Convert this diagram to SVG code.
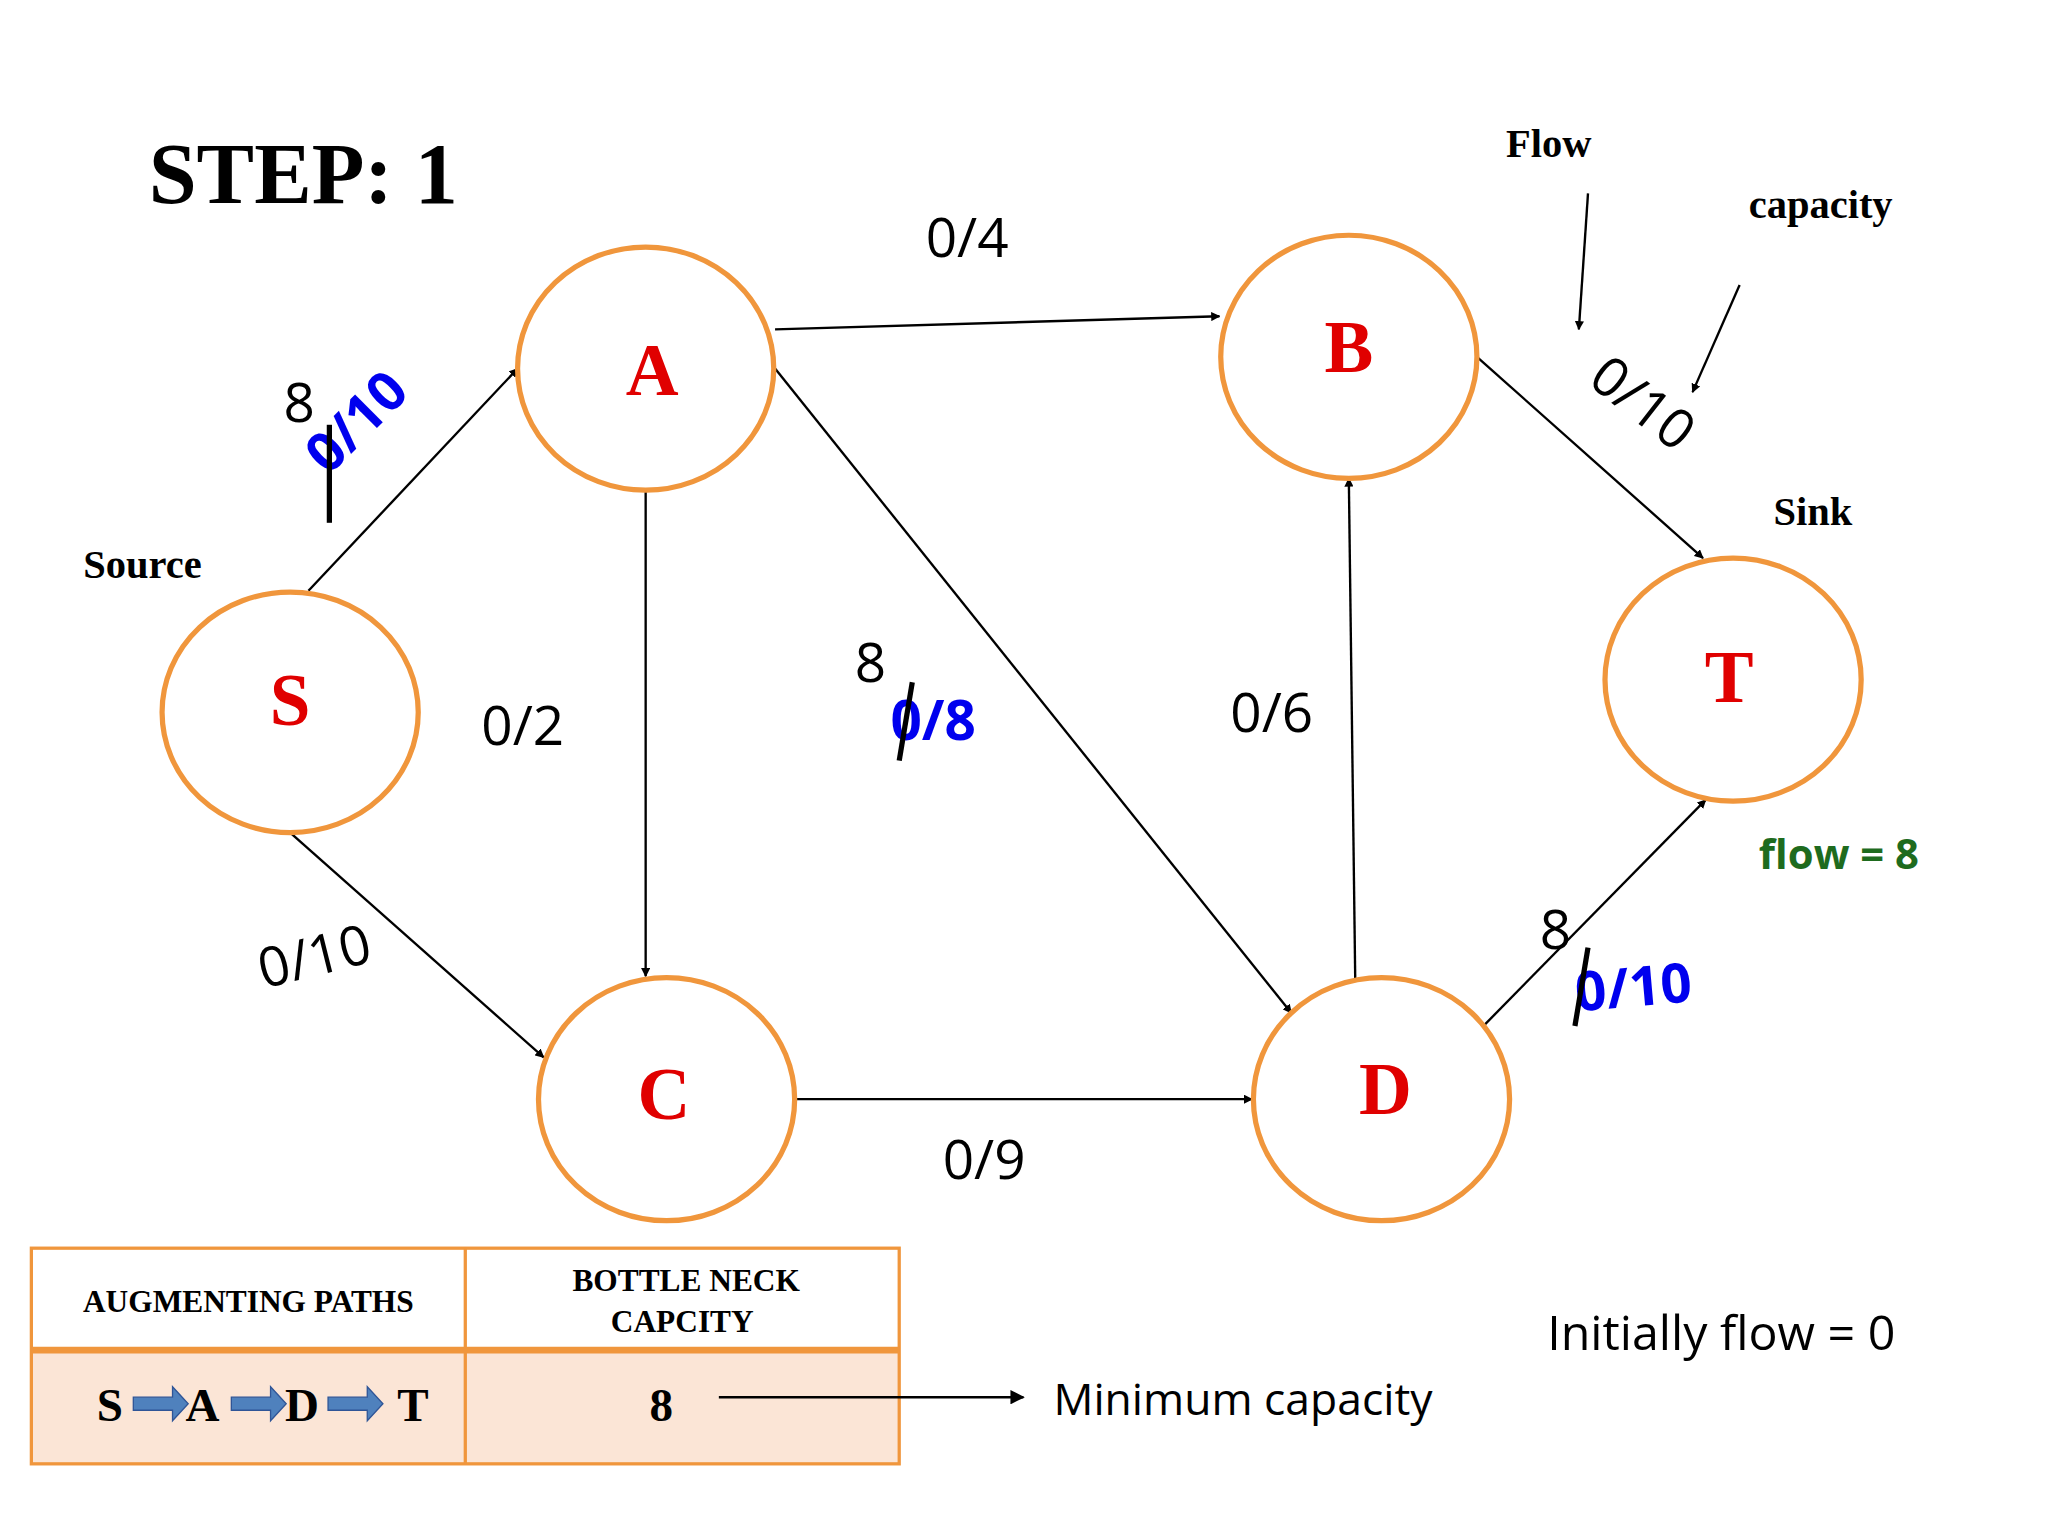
<svg xmlns="http://www.w3.org/2000/svg" width="2048" height="1536" viewBox="0 0 2048 1536">
<defs>
<marker id="ah" viewBox="0 0 10 10" refX="9" refY="5" markerWidth="7" markerHeight="7" markerUnits="userSpaceOnUse" orient="auto"><path d="M0,0L10,5L0,10z" fill="#000"/></marker>
<marker id="ah2" viewBox="0 0 10 10" refX="9" refY="5" markerWidth="11" markerHeight="11" markerUnits="userSpaceOnUse" orient="auto"><path d="M0,0L10,5L0,10z" fill="#000"/></marker>
<style>
.n{fill:#fff;stroke:#F0963C;stroke-width:4}
.nl{font-family:"Liberation Serif",serif;font-weight:bold;font-size:56px;fill:#E00000;text-anchor:middle}
.e{stroke:#000;stroke-width:1.8;fill:none;marker-end:url(#ah)}
.lb{font-family:"Open Sans",sans-serif;font-size:42px;fill:#000;text-anchor:middle}
.bl{font-family:"Open Sans",sans-serif;font-weight:bold;font-size:42px;fill:#0000EE;text-anchor:middle}
.tb{font-family:"Liberation Serif",serif;font-weight:bold;fill:#000;text-anchor:middle}
.st{stroke:#000;stroke-width:4}
.ba{fill:#4F81BD;stroke:#2F5597;stroke-width:1}
</style>
</defs>
<rect width="2048" height="1536" fill="#fff"/>
<g transform="scale(1.307)">
<text class="tb" x="232" y="155" font-size="66">STEP: 1</text>
<g id="table">
<rect x="24" y="1033" width="664" height="87" fill="#FBE5D6"/>
<rect x="24" y="955" width="664" height="165" fill="none" stroke="#F0963C" stroke-width="2.5"/>
<line x1="356" y1="955" x2="356" y2="1120" stroke="#F0963C" stroke-width="2.5"/>
<line x1="24" y1="1033" x2="688" y2="1033" stroke="#F0963C" stroke-width="5"/>
<text class="tb" x="190" y="1004" font-size="24">AUGMENTING PATHS</text>
<text class="tb" x="525" y="988" font-size="24">BOTTLE NECK</text>
<text class="tb" x="522" y="1019" font-size="24">CAPCITY</text>
<text class="tb" x="506" y="1087" font-size="36">8</text>
<text class="tb" x="84" y="1087" font-size="36">S</text>
<text class="tb" x="155" y="1087" font-size="36">A</text>
<text class="tb" x="231" y="1087" font-size="36">D</text>
<text class="tb" x="316" y="1087" font-size="36">T</text>
<path class="ba" d="M102,1069h30v-8l12,13l-12,13v-8h-30z"/>
<path class="ba" d="M177,1069h30v-8l12,13l-12,13v-8h-30z"/>
<path class="ba" d="M251,1069h30v-8l12,13l-12,13v-8h-30z"/>
</g>
<g id="connectors">
<line class="e" x1="236" y1="452" x2="396" y2="282"/>
<line class="e" x1="222" y1="637" x2="416" y2="809"/>
<line class="e" x1="593" y1="252" x2="933" y2="242"/>
<line class="e" x1="494" y1="375" x2="494" y2="747"/>
<line class="e" x1="593" y1="282" x2="988" y2="775"/>
<line class="e" x1="608" y1="841" x2="958" y2="841"/>
<line class="e" x1="1037" y1="757" x2="1032" y2="366"/>
<line class="e" x1="1130" y1="273" x2="1303" y2="427"/>
<line class="e" x1="1133" y1="787" x2="1305" y2="612"/>
<line class="e" x1="1215" y1="148" x2="1208" y2="252"/>
<line class="e" x1="1331" y1="218" x2="1295" y2="300"/>
<line x1="550" y1="1069" x2="783" y2="1069" stroke="#000" stroke-width="2" marker-end="url(#ah2)"/>
</g>
<g id="S"><ellipse class="n" cx="222" cy="545" rx="98" ry="92"/><text class="nl" x="222" y="555">S</text></g>
<g id="A"><ellipse class="n" cx="494" cy="282" rx="98" ry="93"/><text class="nl" x="499" y="302">A</text></g>
<g id="B"><ellipse class="n" cx="1032" cy="273" rx="98" ry="93"/><text class="nl" x="1032" y="285">B</text></g>
<g id="T"><ellipse class="n" cx="1326" cy="520" rx="98" ry="93"/><text class="nl" x="1323" y="537">T</text></g>
<g id="C"><ellipse class="n" cx="510" cy="841" rx="98" ry="93"/><text class="nl" x="508" y="856">C</text></g>
<g id="D"><ellipse class="n" cx="1057" cy="841" rx="98" ry="93"/><text class="nl" x="1060" y="852">D</text></g>
<g id="labels">
<text class="lb" x="740" y="197">0/4</text>
<text class="lb" x="229" y="323">8</text>
<text class="bl" transform="translate(283,333) rotate(-45)">0/10</text>
<line class="st" x1="252" y1="325" x2="252" y2="400"/>
<text class="lb" x="400" y="570">0/2</text>
<text class="lb" x="666" y="522">8</text>
<text class="bl" x="714" y="566">0/8</text>
<line class="st" x1="698" y1="522" x2="688" y2="582"/>
<text class="lb" x="973" y="560">0/6</text>
<text class="lb" transform="translate(1248,320) rotate(38)">0/10</text>
<text class="lb" transform="translate(244,746) rotate(-14)">0/10</text>
<text class="lb" x="753" y="902">0/9</text>
<text class="lb" x="1190" y="726">8</text>
<text class="bl" transform="translate(1251,770) rotate(-5)">0/10</text>
<line class="st" x1="1215" y1="725" x2="1205" y2="785"/>
<text x="1407" y="665" font-family="'Open Sans',sans-serif" font-weight="bold" font-size="32" fill="#1E6B1E" text-anchor="middle">flow = 8</text>
<text class="tb" x="1387" y="402" font-size="31">Sink</text>
<text class="tb" x="109" y="442" font-size="31">Source</text>
<text class="tb" x="1185" y="120" font-size="31">Flow</text>
<text class="tb" x="1393" y="167" font-size="31">capacity</text>
<text x="1317" y="1033" font-family="'Open Sans',sans-serif" font-size="37" text-anchor="middle">Initially flow = 0</text>
<text x="951" y="1083" font-family="'Open Sans',sans-serif" font-size="34" text-anchor="middle">Minimum capacity</text>
</g>
</g>
</svg>
